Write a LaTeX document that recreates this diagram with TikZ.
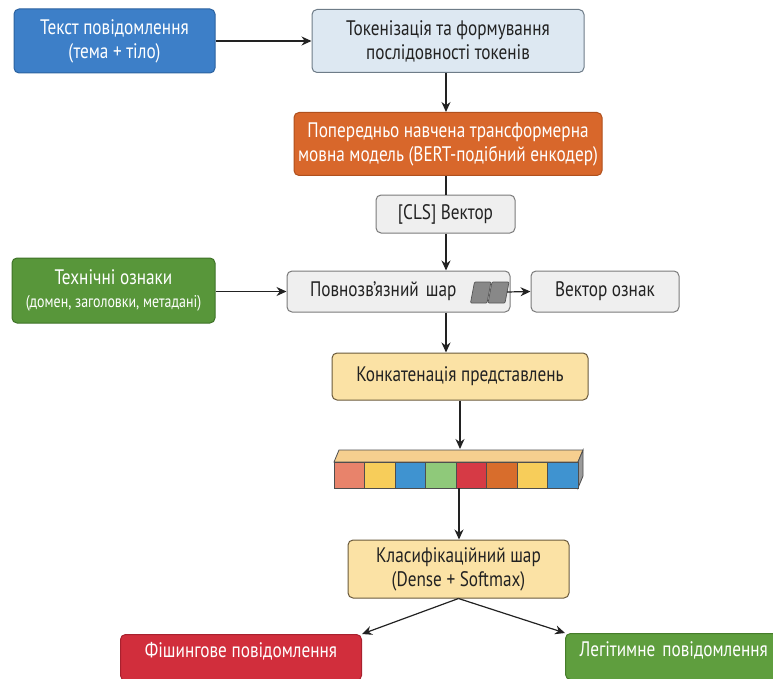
\documentclass[tikz,border=0pt]{standalone}
\usepackage{fontspec}
\setmainfont{PT Sans}[FakeStretch=0.82]
\usetikzlibrary{arrows.meta}

\definecolor{inblue}{HTML}{3D7FC8}
\definecolor{inblueD}{HTML}{2B62A0}
\definecolor{tokfill}{HTML}{DDE8F2}
\definecolor{tokline}{HTML}{6E7C88}
\definecolor{bertfill}{HTML}{D8672B}
\definecolor{bertline}{HTML}{B0501D}
\definecolor{greyfill}{HTML}{EFEFEF}
\definecolor{greyline}{HTML}{7A7A7A}
\definecolor{featfill}{HTML}{58963A}
\definecolor{featline}{HTML}{3E7227}
\definecolor{sandfill}{HTML}{FBE2A5}
\definecolor{sandline}{HTML}{6A5A3C}
\definecolor{phishfill}{HTML}{D12E3C}
\definecolor{phishline}{HTML}{A8212E}
\definecolor{legitfill}{HTML}{5F9E3E}
\definecolor{legitline}{HTML}{467D2A}
\definecolor{inkc}{HTML}{222222}
\definecolor{cSalmon}{HTML}{E8836B}
\definecolor{cYellow}{HTML}{F7CD5A}
\definecolor{cBlue}{HTML}{3F93D0}
\definecolor{cGreen}{HTML}{8FC97A}
\definecolor{cRed}{HTML}{D63A45}
\definecolor{cOrange}{HTML}{D86D2C}
\definecolor{topface}{HTML}{F6CF8F}
\definecolor{sideface}{HTML}{9A9A9A}
\definecolor{chipfill}{HTML}{888888}
\definecolor{chipline}{HTML}{555555}

\begin{document}
\begin{tikzpicture}[x=1pt,y=-1pt,
  box/.style={draw, rounded corners=5pt, line width=1pt, align=center,
    inner sep=0pt, font=\fontsize{21}{24}\selectfont},
  darkbox/.style={box, text=white},
  lightbox/.style={box, text=inkc},
  arr/.style={draw=inkc, line width=1.2pt, -{Stealth[length=10pt,width=9pt]}},
  plain/.style={draw=inkc, line width=1.2pt},
  cell/.style={draw=inkc!80, line width=0.8pt},
  chip/.style={draw=chipline, fill=chipfill, line width=0.7pt, rounded corners=1pt}
]
\useasboundingbox (0,0) rectangle (773,679);
\clip (0,0) rectangle (773,679);

% input and tokenisation
\node[darkbox, fill=inblue, draw=inblueD, minimum width=201, minimum height=64]
  (txt) at (114.5,41) {Текст повідомлення\\(тема + тіло)};
\node[lightbox, fill=tokfill, draw=tokline, minimum width=272, minimum height=63]
  (tok) at (448,41) {Токенізація та формування\\послідовності токенів};

% encoder
\node[darkbox, fill=bertfill, draw=bertline, minimum width=308, minimum height=63]
  (bert) at (448,144) {Попередньо навчена трансформерна\\мовна модель (BERT-подібний енкодер)};
\node[lightbox, fill=greyfill, draw=greyline, minimum width=139, minimum height=38]
  (cls) at (445.5,214) {[CLS] Вектор};

% technical features branch
\node[darkbox, fill=featfill, draw=featline, minimum width=203, minimum height=65]
  (feat) at (113.5,290.5) {Технічні ознаки\\[-1pt]{\fontsize{17}{19}\selectfont (домен, заголовки, метадані)}};
\node[lightbox, fill=greyfill, draw=greyline, minimum width=223, minimum height=41,
  text width=205, align=left]
  (fc) at (398.5,291.5) {\hspace*{14pt}Повнозв’язний шар};
\node[lightbox, fill=greyfill, draw=greyline, minimum width=148, minimum height=41]
  (vec) at (605,291.5) {Вектор ознак};

% small layer glyph on the dense block
\draw[chip] (474.5,282) -- (491,282) -- (487,303) -- (470.5,303) -- cycle;
\draw[chip] (492,282) -- (509,282) -- (505,303) -- (488,303) -- cycle;
\coordinate (chipout) at (507,292);

% concatenation
\node[lightbox, fill=sandfill, draw=sandline, minimum width=256, minimum height=47]
  (concat) at (460,376.5) {Конкатенація представлень};

% concatenated vector drawn as a bar of cells
\fill[topface, draw=inkc!80, line width=0.8pt] (334,462) -- (339,450) -- (583,450) -- (578,462) -- cycle;
\fill[sideface, draw=inkc!80, line width=0.8pt] (578,462) -- (583,450) -- (583,476) -- (578,488) -- cycle;
\foreach \c [count=\i from 0] in {cSalmon,cYellow,cBlue,cGreen,cRed,cOrange,cYellow,cBlue}{
  \filldraw[cell, fill=\c] ({334+\i*30.5},462) rectangle ({334+(\i+1)*30.5},488);
}
\coordinate (vtop) at (460,449);
\coordinate (vbot) at (459,488);

% classifier and outputs
\node[lightbox, fill=sandfill, draw=sandline, minimum width=221, minimum height=58]
  (head) at (458.5,569) {Класифікаційний шар\\(Dense + Softmax)};
\node[darkbox, fill=phishfill, draw=phishline, anchor=north west,
  minimum width=241, inner ysep=0pt, text height=23pt, text depth=23pt]
  (phish) at (120,634) {Фішингове повідомлення};
\node[darkbox, fill=legitfill, draw=legitline, anchor=north west,
  minimum width=220, inner ysep=0pt, text height=23pt, text depth=23pt, text width=210, align=left]
  (legit) at (565,633) {\hspace*{9pt}Легітимне повідомлення};

% connectors
\coordinate (col) at (446,0);
\draw[arr] (txt.east) -- (tok.west);
\draw[arr] (tok.south -| col) -- (bert.north -| col);
\draw[plain] (bert.south -| col) -- (cls.north -| col);
\draw[arr] (cls.south -| col) -- (fc.north -| col);
\draw[arr] (feat.east |- fc.west) -- (fc.west);
\draw[arr] (chipout) -- (vec.west);
\draw[arr] (fc.south -| col) -- (concat.north -| col);
\draw[arr] (concat.south -| vtop) -- (vtop);
\draw[arr] (vbot) -- (head.north -| vbot);
\draw[arr] (head.south) -- (phish.north east);
\draw[arr] (head.south) -- (legit.north west);
\end{tikzpicture}
\end{document}
